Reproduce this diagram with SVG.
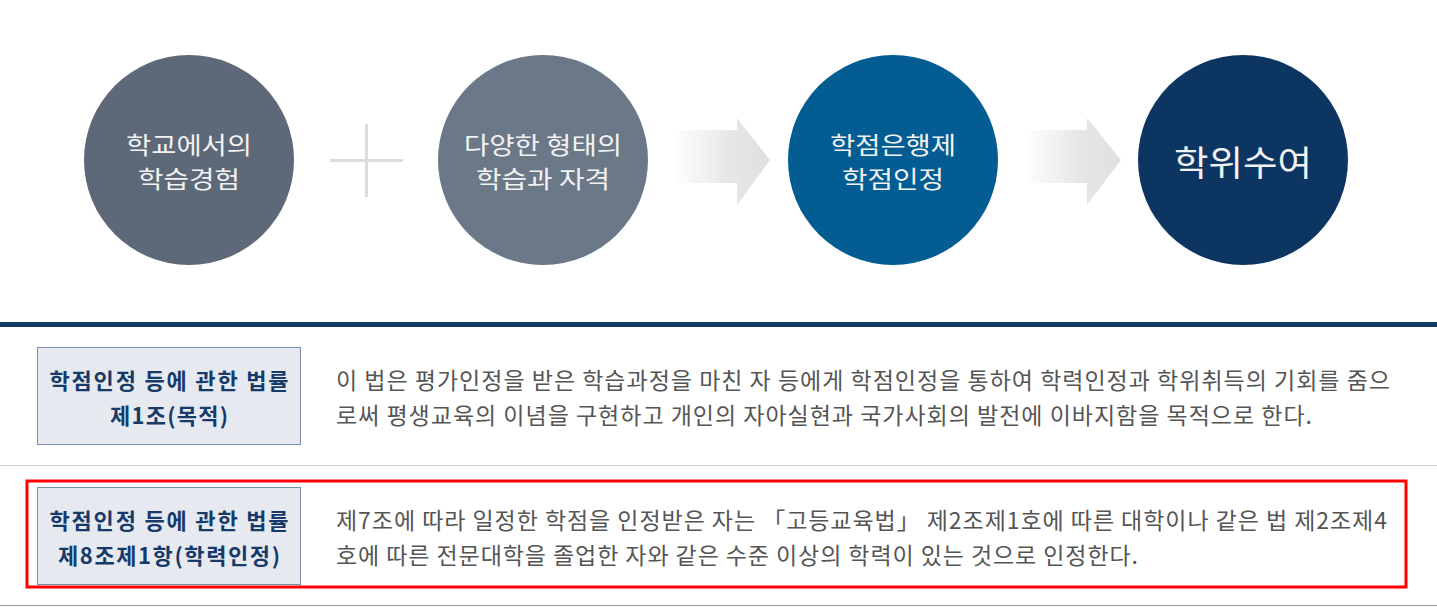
<svg xmlns="http://www.w3.org/2000/svg" width="1437" height="610" viewBox="0 0 1437 610">
<style>
.ct{font-family:"Noto Sans CJK KR","Noto Sans",sans-serif;fill:#f2f2f2;text-anchor:middle;font-size:24px}
.lb{font-family:"Noto Sans CJK KR","Noto Sans",sans-serif;fill:#173a6a;text-anchor:middle;font-size:22px;font-weight:bold}
.bd{font-family:"Noto Sans CJK KR","Noto Sans",sans-serif;fill:#555;font-size:23px}
.lbox{fill:#e6eaf0;stroke:#7a8fae;stroke-width:1}
</style>
<defs>
<linearGradient id="ag" x1="0" x2="1" y1="0" y2="0">
<stop offset="0" stop-color="#ffffff"/>
<stop offset="0.6" stop-color="#e6e6e6"/>
<stop offset="1" stop-color="#e0e0e0"/>
</linearGradient>
</defs>
<rect width="1437" height="610" fill="#fff"/>
<g id="connectors">
<path d="M330 160.5H403M366.5 124V197" stroke="#dcdcdc" stroke-width="3" fill="none"/>
<polygon points="672,130 737,130 737,118 770,160 737,205 737,183 672,183" fill="url(#ag)"/>
<polygon points="1022,130 1087,130 1087,118 1121,160 1087,205 1087,183 1022,183" fill="url(#ag)"/>
</g>
<g id="node1">
<circle cx="189" cy="160" r="105" fill="#5d6878"/>
<text class="ct" x="189" y="154" textLength="126" lengthAdjust="spacingAndGlyphs">학교에서의</text>
<text class="ct" x="189" y="188" textLength="102" lengthAdjust="spacingAndGlyphs">학습경험</text>
</g>
<g id="node2">
<circle cx="543" cy="160" r="105" fill="#6a7888"/>
<text class="ct" x="543" y="154" textLength="158" lengthAdjust="spacingAndGlyphs">다양한 형태의</text>
<text class="ct" x="543" y="188" textLength="134" lengthAdjust="spacingAndGlyphs">학습과 자격</text>
</g>
<g id="node3">
<circle cx="893" cy="160" r="105" fill="#035d92"/>
<text class="ct" x="893" y="154" textLength="126" lengthAdjust="spacingAndGlyphs">학점은행제</text>
<text class="ct" x="893" y="188" textLength="102" lengthAdjust="spacingAndGlyphs">학점인정</text>
</g>
<g id="node4">
<circle cx="1243" cy="160" r="105" fill="#0d3562"/>
<text class="ct" x="1243" y="176" style="font-size:35px" textLength="138" lengthAdjust="spacingAndGlyphs">학위수여</text>
</g>
<rect x="0" y="322" width="1437" height="5" fill="#123a67"/>
<g id="row1">
<rect class="lbox" x="37.5" y="347.5" width="263" height="97"/>
<text class="lb" x="169" y="389" textLength="239">학점인정 등에 관한 법률</text>
<text class="lb" x="169" y="424" textLength="118">제1조(목적)</text>
<text class="bd" x="336" y="389" textLength="1054">이 법은 평가인정을 받은 학습과정을 마친 자 등에게 학점인정을 통하여 학력인정과 학위취득의 기회를 줌으</text>
<text class="bd" x="336" y="424" textLength="976">로써 평생교육의 이념을 구현하고 개인의 자아실현과 국가사회의 발전에 이바지함을 목적으로 한다.</text>
</g>
<rect x="0" y="465" width="1437" height="1" fill="#cccccc"/>
<g id="row2">
<rect x="27" y="481" width="1379" height="106" fill="none" stroke="#ff0000" stroke-width="3"/>
<rect class="lbox" x="37.5" y="487.5" width="263" height="97"/>
<text class="lb" x="169" y="529" textLength="239">학점인정 등에 관한 법률</text>
<text class="lb" x="169" y="564" textLength="222">제8조제1항(학력인정)</text>
<text class="bd" x="336" y="529" textLength="1051">제7조에 따라 일정한 학점을 인정받은 자는 「고등교육법」 제2조제1호에 따른 대학이나 같은 법 제2조제4</text>
<text class="bd" x="336" y="564" textLength="802">호에 따른 전문대학을 졸업한 자와 같은 수준 이상의 학력이 있는 것으로 인정한다.</text>
</g>
<rect x="0" y="605" width="1437" height="1" fill="#999"/>
</svg>
